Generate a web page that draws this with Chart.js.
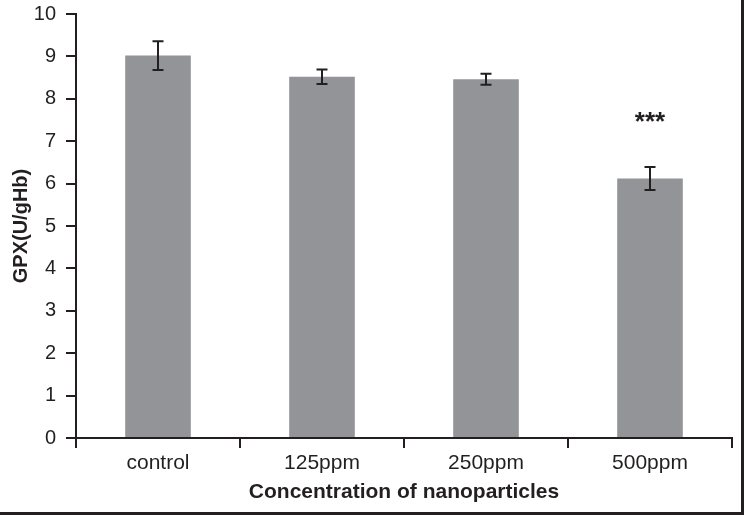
<!DOCTYPE html>
<html>
<head>
    <title>GPX</title>
    <style>
        body { margin: 0; background: #fff; }
        #wrap { width: 744px; height: 515px; }
    </style>
</head>
<body>
    <div id="wrap">
        <canvas id="myChart" width="744" height="515"></canvas>
    </div>

    <script src="https://cdn.jsdelivr.net/npm/chart.js"></script>

    <script>
        const categories = ["control", "125ppm", "250ppm", "500ppm"];
        const gpx = [9.02, 8.52, 8.46, 6.12];
        const gpxErr = [0.34, 0.17, 0.13, 0.27];
        const marks = ["", "", "", "***"];

        const fontName = "'Liberation Sans', Arial, sans-serif";

        // error bars, significance stars and the picture frame
        const extras = {
            id: "extras",
            afterDatasetsDraw(chart) {
                const ctx = chart.ctx;
                const meta = chart.getDatasetMeta(0);
                const y = chart.scales.y;
                ctx.save();
                ctx.strokeStyle = "#231f20";
                ctx.lineWidth = 2;
                meta.data.forEach((bar, i) => {
                    const top = y.getPixelForValue(gpx[i] + gpxErr[i]);
                    const bottom = y.getPixelForValue(gpx[i] - gpxErr[i]);
                    ctx.beginPath();
                    ctx.moveTo(bar.x, top);
                    ctx.lineTo(bar.x, bottom);
                    ctx.moveTo(bar.x - 5.5, top);
                    ctx.lineTo(bar.x + 5.5, top);
                    ctx.moveTo(bar.x - 5.5, bottom);
                    ctx.lineTo(bar.x + 5.5, bottom);
                    ctx.stroke();
                    if (marks[i]) {
                        ctx.fillStyle = "#231f20";
                        ctx.font = "bold 26px " + fontName;
                        ctx.textAlign = "center";
                        ctx.textBaseline = "alphabetic";
                        ctx.fillText(marks[i], bar.x, top - 37);
                    }
                });
                ctx.fillStyle = "#231f20";
                ctx.fillRect(chart.width - 3, 0, 3, chart.height);
                ctx.fillRect(0, chart.height - 3, chart.width, 3);
                ctx.restore();
            }
        };

        new Chart(document.getElementById("myChart"), {
            type: "bar",
            data: {
                labels: categories,
                datasets: [{
                    data: gpx,
                    backgroundColor: "#939497",
                    borderWidth: 0,
                    categoryPercentage: 1.0,
                    barPercentage: 0.4
                }]
            },
            options: {
                responsive: false,
                animation: false,
                devicePixelRatio: 1,
                layout: { padding: { top: 14, right: 12, left: 9, bottom: 0 } },
                plugins: {
                    legend: { display: false },
                    tooltip: { enabled: false }
                },
                scales: {
                    x: {
                        offset: true,
                        grid: {
                            offset: true,
                            drawOnChartArea: false,
                            color: "#231f20",
                            lineWidth: 2,
                            tickLength: 10
                        },
                        border: { color: "#231f20", width: 2 },
                        ticks: {
                            color: "#231f20",
                            font: { family: fontName, size: 21 },
                            padding: 3
                        },
                        title: {
                            display: true,
                            text: "Concentration of nanoparticles",
                            color: "#231f20",
                            font: { family: fontName, size: 21, weight: "bold" },
                            padding: { top: 2, bottom: 10 }
                        },
                        afterFit(scale) { scale.height = 77; }
                    },
                    y: {
                        min: 0,
                        max: 10,
                        ticks: {
                            stepSize: 1,
                            color: "#231f20",
                            font: { family: fontName, size: 20 },
                            padding: 10
                        },
                        grid: {
                            drawOnChartArea: false,
                            color: "#231f20",
                            lineWidth: 2,
                            tickLength: 10
                        },
                        border: { color: "#231f20", width: 2 },
                        title: {
                            display: true,
                            text: "GPX(U/gHb)",
                            color: "#231f20",
                            font: { family: fontName, size: 20, weight: "bold" },
                            padding: { top: 0, bottom: 4 }
                        },
                        afterFit(scale) {
                            scale.width = 67;
                            scale.paddingTop = 0;
                        }
                    }
                }
            },
            plugins: [extras]
        });
    </script>
</body>
</html>
